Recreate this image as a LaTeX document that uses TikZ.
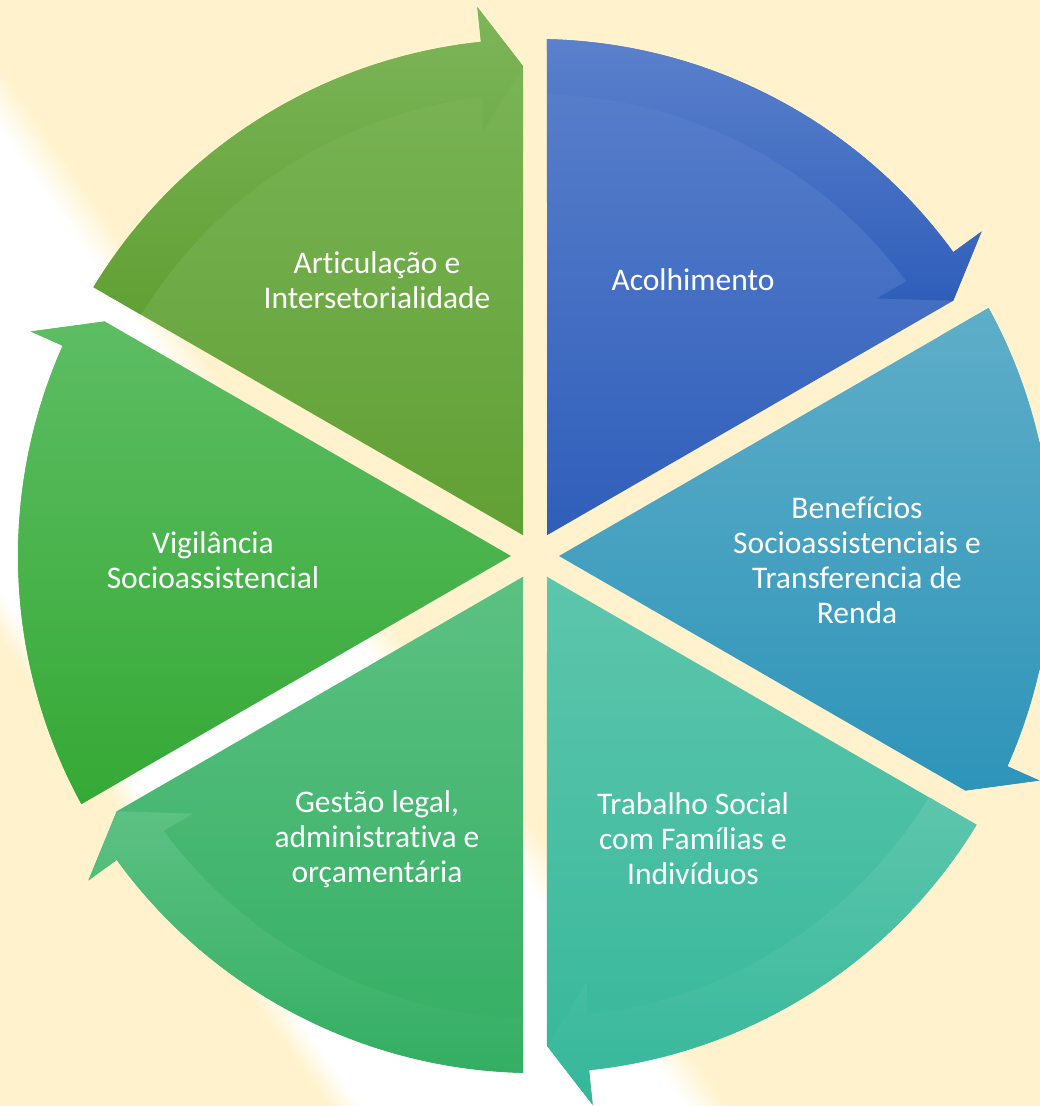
\documentclass[tikz,border=0pt]{standalone}
\usepackage{fontspec}
\setmainfont{Carlito}[Ligatures=NoCommon]
\definecolor{cream}{HTML}{FFF2CC}
\definecolor{artTop}{HTML}{7DB65A}
\definecolor{artBot}{HTML}{61A034}
\definecolor{acoTop}{HTML}{5B81CC}
\definecolor{acoBot}{HTML}{2F5EBA}
\definecolor{benTop}{HTML}{5EAEC8}
\definecolor{benBot}{HTML}{2E94B9}
\definecolor{traTop}{HTML}{5DC6AC}
\definecolor{traBot}{HTML}{35B79A}
\definecolor{gesTop}{HTML}{5CC183}
\definecolor{gesBot}{HTML}{33AE62}
\definecolor{vigTop}{HTML}{5DBD63}
\definecolor{vigBot}{HTML}{35A935}
\pgfdeclareverticalshading{streak}{100bp}{color(0bp)=(cream); color(25bp)=(cream);%
	color(29.4bp)=(white); color(69.3bp)=(white); color(75bp)=(cream); color(100bp)=(cream)}
\tikzset{%
	sector/.style={insert path={([shift={(#1+30:24)}]ctr) -- ([shift={(#1+58.67:517)}]ctr)%
		arc[start angle=#1+58.67, end angle=#1+6, radius=517] -- ([shift={(#1+6:552)}]ctr)%
		-- ([shift={(#1+1.4:490)}]ctr) -- cycle}},
	arrowband/.style={insert path={([shift={(#1+58.67:517)}]ctr)%
		arc[start angle=#1+58.67, end angle=#1+6, radius=517] -- ([shift={(#1+6:552)}]ctr)%
		-- ([shift={(#1+1.4:490)}]ctr) -- ([shift={(#1+7:428)}]ctr) -- ([shift={(#1+6.5:462)}]ctr)%
		arc[start angle=#1+6.5, end angle=#1+58.51, radius=462] -- cycle}},
	txt/.style={text=white, align=center, inner sep=0pt, font=\fontsize{31.5}{35}\selectfont}
}
\begin{document}
\begin{tikzpicture}[x=1pt, y=1pt]
	\useasboundingbox (0,0) rectangle (1040,1106);
	\fill[cream] (0,0) rectangle (1040,1106);
	% light streak behind the circle
	\begin{scope}
		\clip (0,0) rectangle (1040,1106);
		\begin{scope}[transform canvas={rotate around={-55:(0,731)}}]
			\shade[shading=streak] (-400,579) rectangle (1300,909);
		\end{scope}
	\end{scope}

	\coordinate (ctr) at (535,550);

	\shade[top color=artTop, bottom color=artBot, sector=90];
	\shade[top color=artTop, bottom color=artBot, arrowband=90];
	\shade[top color=acoTop, bottom color=acoBot, sector=30];
	\shade[top color=acoTop, bottom color=acoBot, arrowband=30];
	\shade[top color=benTop, bottom color=benBot, sector=-30];
	\shade[top color=benTop, bottom color=benBot, arrowband=-30];
	\shade[top color=traTop, bottom color=traBot, sector=-90];
	\shade[top color=traTop, bottom color=traBot, arrowband=-90];
	\shade[top color=gesTop, bottom color=gesBot, sector=-150];
	\shade[top color=gesTop, bottom color=gesBot, arrowband=-150];
	\shade[top color=vigTop, bottom color=vigBot, sector=150];
	\shade[top color=vigTop, bottom color=vigBot, arrowband=150];

	\node[txt] (artic) at (377,826) {Articulação e\\Intersetorialidade};
	\node[txt] (acolh) at (693,826) {Acolhimento};
	\node[txt] (benef) at (857,546) {Benefícios\\Socioassistenciais e\\Transferencia de\\Renda};
	\node[txt] (trab)  at (693,267) {Trabalho Social\\com Famílias e\\Indivíduos};
	\node[txt] (gest)  at (377,267) {Gestão legal,\\administrativa e\\orçamentária};
	\node[txt] (vigil) at (213,546) {Vigilância\\Socioassistencial};
\end{tikzpicture}
\end{document}
